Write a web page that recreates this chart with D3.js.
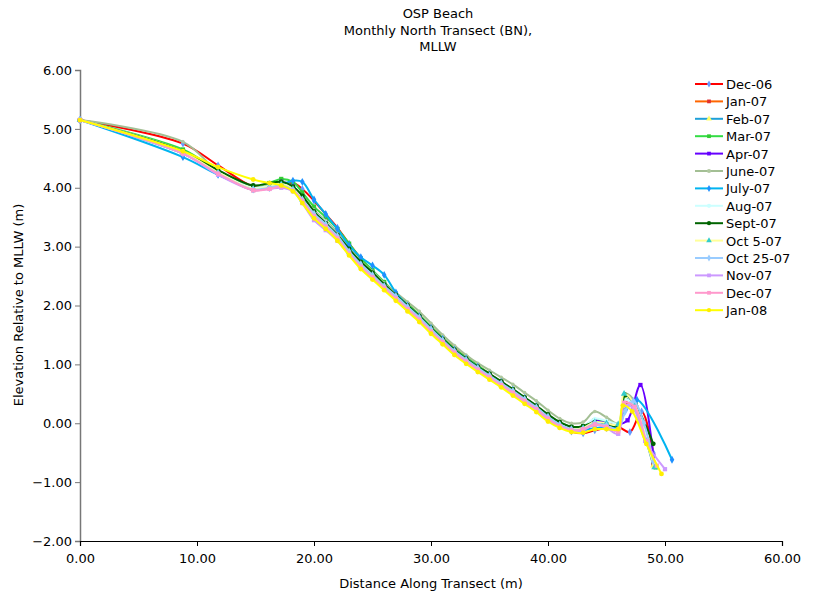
<!DOCTYPE html>
<html>
<head>
<meta charset="utf-8">
<script src="https://cdn.jsdelivr.net/npm/d3@7"></script>
<style>
  html, body { margin: 0; padding: 0; background: #fff; }
  svg { display: block; font-family: "DejaVu Sans", Verdana, sans-serif; }
</style>
</head>
<body>
<svg id="chart" width="814" height="597"></svg>
<script>
// ---------- DATA ----------
const titleLines = ["OSP Beach", "Monthly North Transect (BN),", "MLLW"];
const xTicks = [0, 10, 20, 30, 40, 50, 60];
const yTicks = [-2, -1, 0, 1, 2, 3, 4, 5, 6];
const seriesNames = ["Dec-06", "Jan-07", "Feb-07", "Mar-07", "Apr-07", "June-07", "July-07",
  "Aug-07", "Sept-07", "Oct 5-07", "Oct 25-07", "Nov-07", "Dec-07", "Jan-08"];

// shared survey stations (m) from the back beach to ~46 m
const coreDistance = [0, 8.8, 11.8, 14.8, 16.2, 17.2, 18.2, 19.0, 20.0, 21.0, 22.0, 23.0, 24.0, 25.0,
  26.0, 27.0, 28.0, 29.0, 30.0, 31.0, 32.0, 33.0, 34.0, 35.0, 36.0, 37.0, 38.0, 39.0, 40.0, 41.0,
  42.0, 43.0, 44.0, 45.0, 46.0];

const elevDec06 = [5.15, 4.75, 4.38, 4.02, 4.02, 4.05, 4.08, 3.98, 3.78, 3.55, 3.32, 3.05, 2.80, 2.58, 2.38, 2.18, 2.00, 1.82, 1.62, 1.42, 1.24, 1.08, 0.94, 0.80, 0.66, 0.52, 0.38, 0.24, 0.10, -0.04, -0.14, -0.17, -0.12, -0.08, -0.06];
const elevJan07 = [5.15, 4.60, 4.25, 3.96, 4.00, 4.05, 3.98, 3.82, 3.58, 3.40, 3.20, 2.95, 2.72, 2.55, 2.36, 2.18, 2.02, 1.84, 1.64, 1.45, 1.28, 1.12, 0.98, 0.84, 0.70, 0.56, 0.42, 0.28, 0.12, 0.00, -0.10, -0.10, -0.02, -0.05, -0.08];
const elevFeb07 = [5.15, 4.58, 4.26, 4.00, 4.02, 4.06, 4.00, 3.84, 3.58, 3.40, 3.20, 2.93, 2.70, 2.52, 2.33, 2.16, 1.98, 1.80, 1.60, 1.41, 1.23, 1.08, 0.94, 0.81, 0.68, 0.55, 0.41, 0.27, 0.12, -0.02, -0.10, -0.09, 0.00, -0.04, -0.06];
const elevMar07 = [5.15, 4.65, 4.28, 4.00, 4.08, 4.15, 4.10, 3.92, 3.68, 3.50, 3.30, 3.05, 2.80, 2.60, 2.40, 2.20, 2.02, 1.84, 1.64, 1.45, 1.27, 1.12, 0.98, 0.84, 0.70, 0.57, 0.43, 0.29, 0.14, 0.02, -0.06, -0.05, 0.05, 0.02, -0.02];
const elevApr07 = [5.15, 4.60, 4.25, 3.98, 4.02, 4.10, 4.02, 3.85, 3.60, 3.42, 3.22, 2.95, 2.72, 2.55, 2.34, 2.17, 1.99, 1.81, 1.61, 1.42, 1.24, 1.09, 0.95, 0.82, 0.69, 0.56, 0.42, 0.28, 0.13, 0.00, -0.08, -0.07, 0.04, 0.00, -0.02];
const elevJun07 = [5.15, 4.78, 4.28, 4.00, 4.05, 4.10, 4.02, 3.86, 3.62, 3.44, 3.24, 2.97, 2.75, 2.58, 2.38, 2.22, 2.06, 1.90, 1.70, 1.50, 1.32, 1.16, 1.02, 0.90, 0.78, 0.66, 0.52, 0.38, 0.22, 0.08, 0.00, 0.02, 0.20, 0.10, 0.00];
const elevJul07 = [5.15, 4.52, 4.22, 3.98, 4.00, 4.05, 4.12, 4.10, 3.80, 3.55, 3.30, 3.02, 2.82, 2.68, 2.52, 2.22, 2.00, 1.82, 1.62, 1.43, 1.25, 1.10, 0.96, 0.83, 0.70, 0.57, 0.43, 0.29, 0.12, -0.02, -0.12, -0.12, -0.08, -0.06, -0.04];
const elevAug07 = [5.15, 4.62, 4.27, 4.00, 4.03, 4.07, 4.00, 3.84, 3.60, 3.42, 3.20, 2.94, 2.72, 2.54, 2.35, 2.17, 1.99, 1.81, 1.61, 1.42, 1.24, 1.09, 0.95, 0.82, 0.69, 0.56, 0.42, 0.28, 0.14, 0.01, -0.08, -0.06, 0.08, 0.04, 0.00];
const elevSep07 = [5.15, 4.62, 4.30, 4.04, 4.08, 4.10, 4.02, 3.86, 3.60, 3.40, 3.20, 2.96, 2.74, 2.56, 2.36, 2.18, 2.00, 1.82, 1.62, 1.43, 1.25, 1.10, 0.96, 0.84, 0.71, 0.58, 0.44, 0.30, 0.15, 0.02, -0.06, -0.05, 0.02, -0.02, -0.04];
const elevOct5 = [5.15, 4.60, 4.26, 3.98, 4.02, 4.06, 3.98, 3.80, 3.55, 3.36, 3.16, 2.90, 2.68, 2.50, 2.31, 2.14, 1.96, 1.78, 1.58, 1.39, 1.21, 1.06, 0.92, 0.79, 0.66, 0.53, 0.39, 0.25, 0.10, -0.03, -0.10, -0.08, 0.02, 0.00, -0.02];
const elevOct25 = [5.15, 4.58, 4.24, 3.97, 4.00, 4.04, 3.96, 3.80, 3.56, 3.38, 3.18, 2.92, 2.70, 2.52, 2.33, 2.16, 1.98, 1.80, 1.60, 1.41, 1.23, 1.08, 0.94, 0.81, 0.68, 0.55, 0.41, 0.27, 0.11, -0.02, -0.10, -0.10, 0.00, -0.04, -0.10];
const elevNov07 = [5.15, 4.58, 4.22, 3.96, 3.98, 4.00, 3.94, 3.74, 3.45, 3.28, 3.10, 2.86, 2.64, 2.46, 2.28, 2.10, 1.92, 1.74, 1.55, 1.36, 1.19, 1.04, 0.90, 0.77, 0.64, 0.50, 0.36, 0.22, 0.06, -0.06, -0.13, -0.12, -0.02, -0.08, -0.18];
const elevDec07 = [5.15, 4.58, 4.24, 3.96, 3.98, 4.02, 3.95, 3.78, 3.52, 3.34, 3.14, 2.88, 2.66, 2.48, 2.30, 2.12, 1.94, 1.76, 1.56, 1.38, 1.20, 1.05, 0.91, 0.78, 0.65, 0.52, 0.38, 0.24, 0.08, -0.05, -0.12, -0.10, -0.02, -0.06, -0.14];
const elevJan08 = [5.15, 4.62, 4.35, 4.14, 4.08, 4.04, 3.94, 3.74, 3.48, 3.30, 3.10, 2.85, 2.62, 2.44, 2.26, 2.08, 1.90, 1.72, 1.52, 1.34, 1.16, 1.01, 0.87, 0.74, 0.61, 0.47, 0.33, 0.19, 0.03, -0.08, -0.15, -0.16, -0.10, -0.10, -0.10];

// seaward tail (berm crest / swash) per survey: distances and elevations
const tailDistance = [
  [47.0, 48.0, 49.0],
  [46.6, 47.5, 48.5, 49.0],
  [46.6, 47.4, 48.4, 49.0],
  [46.6, 47.5, 48.5, 49.2],
  [46.8, 47.9, 49.0],
  [46.6, 47.5, 48.5, 49.2],
  [46.7, 47.6, 50.6],
  [46.6, 47.5, 48.5, 49.2],
  [46.6, 47.5, 49.0],
  [46.5, 47.4, 48.4, 49.1],
  [46.6, 47.3, 48.2, 49.0],
  [46.5, 47.3, 48.3, 50.0],
  [46.5, 47.4, 48.4, 49.3],
  [46.4, 47.2, 48.4, 49.7]
];
const tailElevation = [
  [-0.15, 0.20, -0.50],
  [0.35, 0.25, -0.35, -0.70],
  [0.42, 0.28, -0.30, -0.72],
  [0.48, 0.32, -0.30, -0.75],
  [0.05, 0.65, -0.55],
  [0.50, 0.35, -0.30, -0.75],
  [0.25, 0.40, -0.62],
  [0.40, 0.28, -0.30, -0.75],
  [0.48, 0.30, -0.35],
  [0.50, 0.32, -0.30, -0.75],
  [0.20, 0.38, 0.00, -0.65],
  [0.30, 0.25, -0.30, -0.78],
  [0.35, 0.28, -0.30, -0.72],
  [0.30, 0.20, -0.35, -0.86]
];

const coreElevations = [elevDec06, elevJan07, elevFeb07, elevMar07, elevApr07, elevJun07, elevJul07,
  elevAug07, elevSep07, elevOct5, elevOct25, elevNov07, elevDec07, elevJan08];

// ---------- STYLE ----------
const lineColors = ["#ff0000", "#ff6600", "#1fa0d8", "#33dd44", "#6600ff", "#a3bf94", "#00b4f0",
  "#ccffff", "#006400", "#ffff99", "#99ccff", "#cc99ff", "#ff99cc", "#ffff00"];
const markerColors = ["#6699ff", "#e03030", "#ffff66", "#33cc33", "#6600ff", "#b0c8a0", "#1e90ff",
  "#ccffff", "#006400", "#33cccc", "#99ccff", "#cc99ff", "#ff99cc", "#ffee00"];
const markerShapes = [d3.symbolDiamond, d3.symbolSquare, d3.symbolTriangle, d3.symbolSquare,
  d3.symbolSquare, d3.symbolCircle, d3.symbolDiamond, d3.symbolCircle, d3.symbolCircle,
  d3.symbolTriangle, d3.symbolDiamond, d3.symbolSquare, d3.symbolSquare, d3.symbolCircle];

const series = seriesNames.map((name, i) => {
  const xs = coreDistance.concat(tailDistance[i]);
  const ys = coreElevations[i].concat(tailElevation[i]);
  return { name, i, pts: xs.map((x, k) => ({ x, y: ys[k] })) };
});

// ---------- CHART ----------
const svg = d3.select("#chart");
const x = d3.scaleLinear().domain([0, 60]).range([80, 782]);
const y = d3.scaleLinear().domain([-2, 6]).range([541, 70]);

// title
svg.append("g").selectAll("text").data(titleLines).join("text")
  .attr("x", 438).attr("y", (d, i) => 18 + i * 16.5)
  .attr("text-anchor", "middle").attr("font-size", 13).attr("fill", "#000")
  .text(d => d);

// axes
const yAxis = svg.append("g").attr("transform", "translate(80,0)")
  .call(d3.axisLeft(y).tickValues(yTicks).tickFormat(d3.format(".2f")).tickSize(5).tickPadding(3));
yAxis.select(".domain").attr("stroke", "#777").attr("stroke-width", 1.5);
yAxis.selectAll(".tick line").attr("stroke", "#777");
yAxis.selectAll("text").attr("font-size", 13).attr("fill", "#000").attr("font-family", "DejaVu Sans, Verdana, sans-serif");

const xAxis = svg.append("g").attr("transform", "translate(0,541)")
  .call(d3.axisBottom(x).tickValues(xTicks).tickFormat(d3.format(".2f")).tickSize(5).tickPadding(8));
xAxis.select(".domain").attr("stroke", "#000").attr("stroke-width", 1.2);
xAxis.selectAll("text").attr("font-size", 13).attr("fill", "#000").attr("font-family", "DejaVu Sans, Verdana, sans-serif");

// axis labels
svg.append("text").attr("x", 431).attr("y", 588).attr("text-anchor", "middle")
  .attr("font-size", 13).text("Distance Along Transect (m)");
svg.append("text").attr("transform", "translate(23,305) rotate(-90)").attr("text-anchor", "middle")
  .attr("font-size", 13).text("Elevation Relative to MLLW (m)");

// lines (draw later series on top like Excel)
const line = d3.line().x(d => x(d.x)).y(d => y(d.y)).curve(d3.curveCatmullRom.alpha(0.5));
const plot = svg.append("g");
series.forEach(s => {
  const g = plot.append("g");
  g.append("path").datum(s.pts).attr("d", line)
    .attr("fill", "none").attr("stroke", lineColors[s.i]).attr("stroke-width", 2);
  g.selectAll("path.m").data(s.pts).join("path").attr("class", "m")
    .attr("transform", d => `translate(${x(d.x)},${y(d.y)})`)
    .attr("d", d3.symbol().type(markerShapes[s.i]).size(s.i === 5 || s.i === 7 ? 10 : 18))
    .attr("fill", markerColors[s.i]);
});

// legend
const legend = svg.append("g");
const rows = legend.selectAll("g").data(series).join("g")
  .attr("transform", (d, i) => `translate(695,${84 + i * 17.4})`);
rows.append("line").attr("x1", 0).attr("x2", 28).attr("y1", 0).attr("y2", 0)
  .attr("stroke", d => lineColors[d.i]).attr("stroke-width", 2);
rows.append("path").attr("transform", "translate(14,0)")
  .attr("d", d => d3.symbol().type(markerShapes[d.i]).size(14)())
  .attr("fill", d => markerColors[d.i]);
rows.append("text").attr("x", 31).attr("y", 5).attr("font-size", 13).attr("fill", "#000")
  .text(d => d.name);
</script>
</body>
</html>
